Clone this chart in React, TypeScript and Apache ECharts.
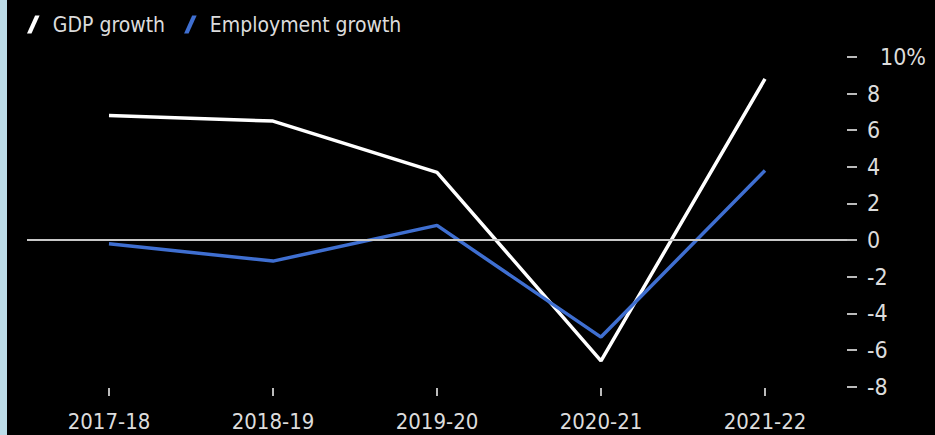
import React, { useEffect, useRef } from "react";
import * as echarts from "echarts";

const categories = ["2017-18", "2018-19", "2019-20", "2020-21", "2021-22"];
const gdpGrowth = [6.8, 6.5, 3.7, -6.6, 8.8];
const employmentGrowth = [-0.2, -1.15, 0.8, -5.3, 3.8];
const yTicks = { min: -8, max: 10, interval: 2 };

const FONT = "'Liberation Sans Narrow', 'DejaVu Sans Condensed', 'Roboto Condensed', 'Noto Sans', sans-serif";
const SLASH = "path://M0,20 L5,20 L14,0 L9,0 Z";

export default function App() {
  const ref = useRef<HTMLDivElement>(null);
  useEffect(() => {
    if (!ref.current) return;
    const chart = echarts.init(ref.current, undefined, { renderer: "svg" });
    chart.setOption({
      animation: false,
      backgroundColor: "#000000",
      graphic: [
        { type: "rect", left: 0, top: 0, shape: { width: 7, height: 435 }, style: { fill: "#bcdce8" } },
      ],
      legend: {
        left: 27,
        top: 14,
        padding: 0,
        itemWidth: 13,
        itemHeight: 18,
        itemGap: 19,
        textStyle: { color: "#dcdcdc", fontSize: 21, fontFamily: FONT, padding: [0, 0, 0, 8] },
        data: [
          { name: "GDP growth", icon: SLASH },
          { name: "Employment growth", icon: SLASH },
        ],
      },
      grid: { left: 27, right: 88, top: 57, bottom: 48.5 },
      xAxis: {
        type: "category",
        data: categories,
        boundaryGap: true,
        offset: 1.5,
        axisLine: { show: false, onZero: false },
        axisTick: { show: true, alignWithLabel: true, length: 8, lineStyle: { color: "#bbbbbb", width: 2 } },
        axisLabel: { color: "#dcdcdc", fontSize: 22, fontFamily: FONT, margin: 22 },
        splitLine: { show: false },
      },
      yAxis: {
        type: "value",
        position: "right",
        min: yTicks.min,
        max: yTicks.max,
        interval: yTicks.interval,
        axisLine: { show: false },
        axisTick: { show: true, length: 10, lineStyle: { color: "#bbbbbb", width: 2 } },
        splitLine: { show: false },
        axisLabel: {
          color: "#dcdcdc",
          fontSize: 23,
          fontFamily: FONT,
          margin: 20,
          formatter: (v: number) => (v === yTicks.max ? "{p|" + v + "%}" : String(v)),
          rich: { p: { color: "#dcdcdc", fontSize: 23, fontFamily: FONT, padding: [0, 0, 0, 13] } },
        },
      },
      series: [
        {
          name: "GDP growth",
          type: "line",
          data: gdpGrowth,
          symbol: "none",
          color: "#ffffff",
          lineStyle: { color: "#ffffff", width: 3.5 },
          z: 3,
          markLine: {
            silent: true,
            symbol: "none",
            label: { show: false },
            lineStyle: { color: "#c8c8c8", width: 2, type: "solid" },
            data: [{ yAxis: 0 }],
          },
        },
        {
          name: "Employment growth",
          type: "line",
          data: employmentGrowth,
          symbol: "none",
          color: "#3f6fd1",
          lineStyle: { color: "#3f6fd1", width: 3.5 },
          z: 4,
        },
      ],
    });
    return () => chart.dispose();
  }, []);
  return (
    <div style={{ position: "fixed", left: 0, top: 0, width: 935, height: 435, background: "#000" }}>
      <div ref={ref} style={{ width: 935, height: 435 }} />
    </div>
  );
}
